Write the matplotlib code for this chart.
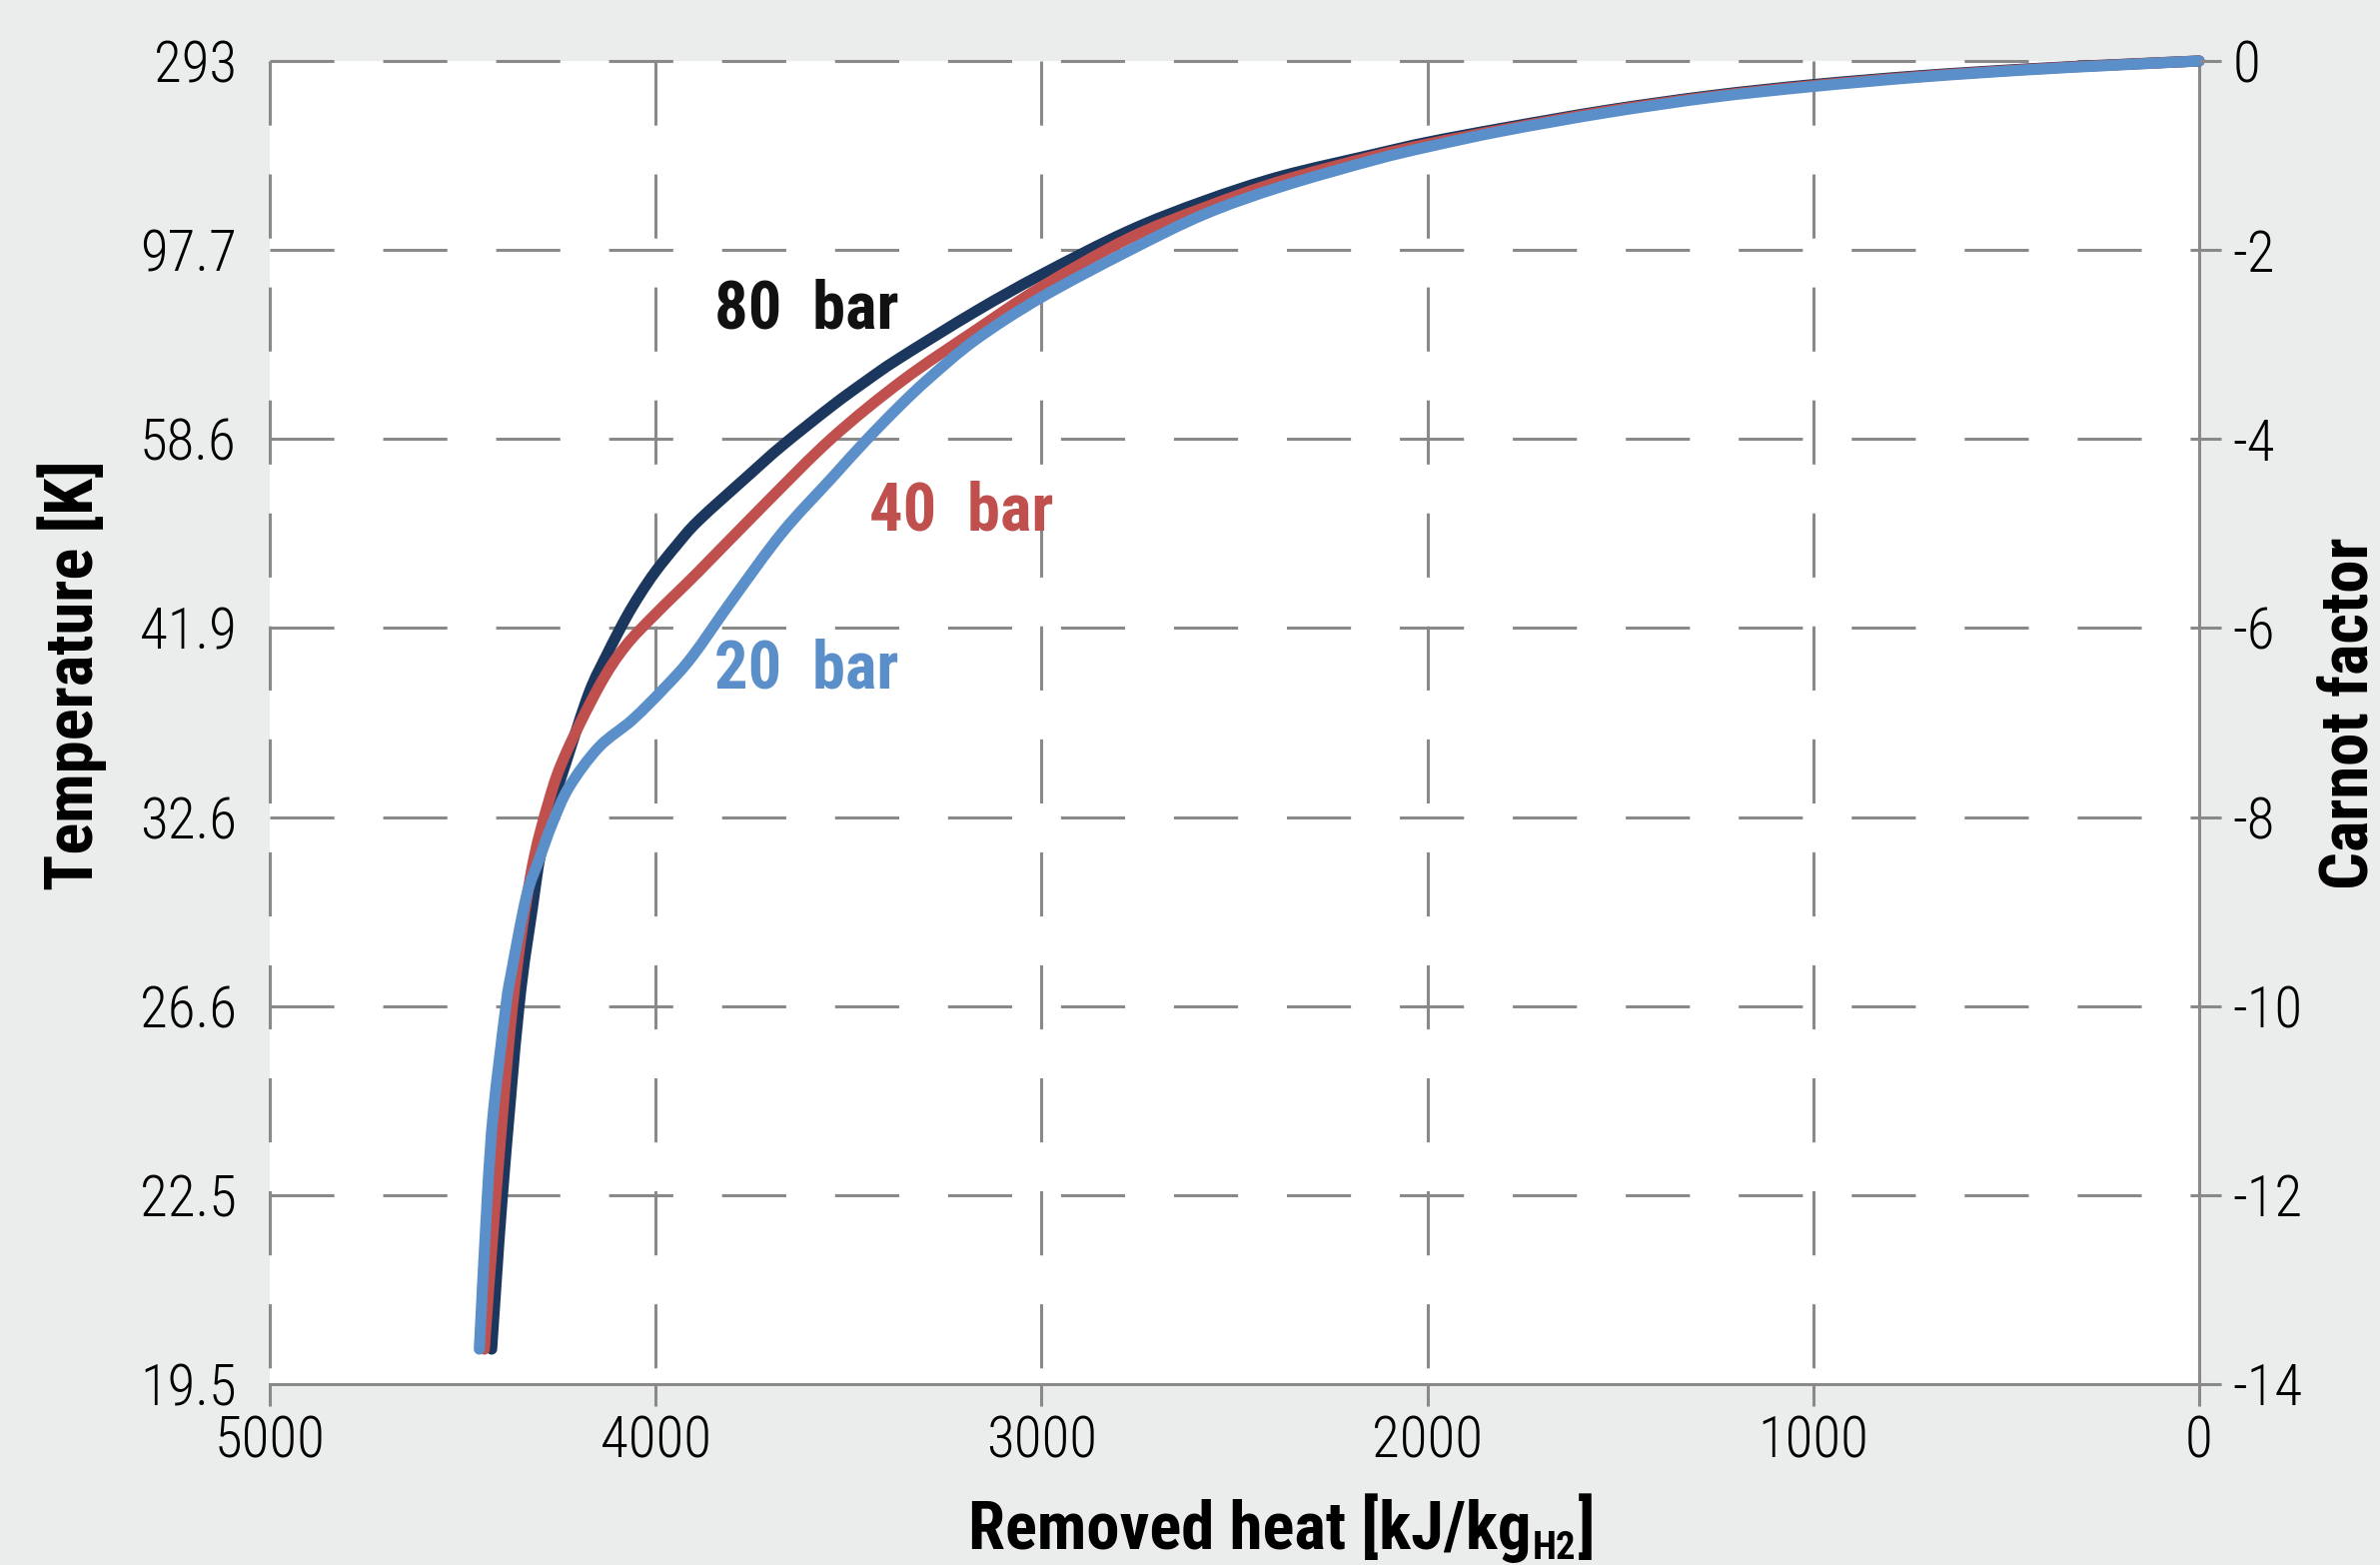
import matplotlib.pyplot as plt
from matplotlib import font_manager as fm
from matplotlib.patches import PathPatch
from matplotlib.path import Path

# removed heat [kJ/kg] and Carnot factor for each pressure
heat_80 = [4425, 4397, 4354, 4319, 4298, 4263, 4233, 4173, 4125, 4078, 4040,
           4000, 3945, 3888, 3758, 3672, 3543, 3456, 3370, 3171, 3000, 2775,
           2577, 2379, 2141, 2000, 1804, 1533, 1262, 1000, 720, 449, 225, 0]
carnot_80 = [-13.63, -12.0, -10.0, -8.95, -8.39, -7.82, -7.43, -6.69, -6.27,
             -5.90, -5.64, -5.40, -5.12, -4.86, -4.38, -4.07, -3.65, -3.39,
             -3.15, -2.65, -2.26, -1.80, -1.48, -1.22, -0.99, -0.86, -0.71,
             -0.52, -0.365, -0.25, -0.155, -0.085, -0.04, 0.0]

heat_40 = [4444, 4414, 4371, 4324, 4276, 4233, 4147, 4080, 4000, 3888, 3715,
           3543, 3360, 3171, 3000, 2775, 2577, 2379, 2141, 2000, 1804, 1533,
           1262, 1000, 720, 449, 225, 0]
carnot_40 = [-13.63, -12.0, -10.0, -8.62, -7.82, -7.33, -6.62, -6.20, -5.85,
             -5.40, -4.68, -3.99, -3.38, -2.85, -2.39, -1.88, -1.55, -1.27,
             -1.01, -0.88, -0.725, -0.53, -0.375, -0.26, -0.163, -0.09,
             -0.043, 0.0]

heat_20 = [4457, 4436, 4420, 4388, 4375, 4335, 4302, 4268, 4224, 4147, 4060,
           3974, 3905, 3801, 3672, 3543, 3456, 3370, 3292, 3171, 3000, 2775,
           2577, 2379, 2141, 2000, 1804, 1533, 1262, 1000, 720, 449, 225, 0]
carnot_20 = [-13.63, -12.0, -11.1, -10.0, -9.67, -8.84, -8.45, -8.07, -7.68,
             -7.26, -6.97, -6.62, -6.30, -5.70, -4.99, -4.41, -4.02, -3.66,
             -3.36, -2.95, -2.50, -2.01, -1.62, -1.33, -1.05, -0.91, -0.74,
             -0.545, -0.385, -0.27, -0.17, -0.095, -0.046, 0.0]

series = [
    ("80  bar", heat_80, carnot_80, "#1b375e", "#111111", 3610, -2.64),
    ("40  bar", heat_40, carnot_40, "#c0504d", "#c0504d", 3208, -4.77),
    ("20  bar", heat_20, carnot_20, "#5b8fc9", "#5b8fc9", 3610, -6.44),
]

x_ticks = [5000, 4000, 3000, 2000, 1000, 0]
carnot_ticks = [0, -2, -4, -6, -8, -10, -12, -14]
temp_labels = ["293", "97.7", "58.6", "41.9", "32.6", "26.6", "22.5", "19.5"]

FAMILIES = ["Roboto Condensed", "Liberation Sans Narrow", "Open Sans Condensed",
            "Roboto", "Noto Sans", "Lato", "Liberation Sans", "DejaVu Sans"]


def _num(v, table, default):
    return v if isinstance(v, (int, float)) else table.get(v, default)


def pick_font(weight):
    """Narrow font file close to the wanted weight, from the families above."""
    for fam in FAMILIES:
        cands = [f for f in fm.fontManager.ttflist
                 if f.name == fam and f.style == "normal"
                 and abs(_num(f.weight, fm.weight_dict, 400) - weight) <= 100]
        if cands:
            best = min(cands, key=lambda f: (
                _num(f.stretch, fm.stretch_dict, 500),
                abs(_num(f.weight, fm.weight_dict, 400) - weight)))
            return fm.FontProperties(fname=best.fname)
    return fm.FontProperties(family="DejaVu Sans",
                             weight="bold" if weight > 500 else "normal")


def smooth_path(xs, ys):
    """Smoothed line through the points (like a spreadsheet 'smoothed line')."""
    pts = list(zip(xs, ys))
    verts = [pts[0]]
    codes = [Path.MOVETO]
    n = len(pts)
    for i in range(n - 1):
        p0 = pts[max(i - 1, 0)]
        p1 = pts[i]
        p2 = pts[i + 1]
        p3 = pts[min(i + 2, n - 1)]
        c1 = (p1[0] + (p2[0] - p0[0]) / 6, p1[1] + (p2[1] - p0[1]) / 6)
        c2 = (p2[0] - (p3[0] - p1[0]) / 6, p2[1] - (p3[1] - p1[1]) / 6)
        verts += [c1, c2, p2]
        codes += [Path.CURVE4] * 3
    return Path(verts, codes)


bold_fp = pick_font(700)
light_fp = pick_font(300)

bg = "#ebedec"
grid_col = "#898989"
W, H = 2382, 1566

fig = plt.figure(figsize=(W / 100, H / 100), dpi=100, facecolor=bg)
ax = fig.add_axes([270 / W, 1 - 1385 / H, (2201 - 270) / W, (1385 - 61) / H])
ax.set_facecolor("white")
ax.set_xlim(5000, 0)
ax.set_ylim(-14, 0)

# dashed grid, drawn from the top / from the left like the original
dash = (0, (21, 16))
for xv in x_ticks[:-1]:
    ax.plot([xv, xv], [0, -14], color=grid_col, lw=2.2, ls=dash, zorder=1,
            clip_on=False)
for cv in carnot_ticks[:-1]:
    ax.plot([5000, 0], [cv, cv], color=grid_col, lw=2.2, ls=dash, zorder=1,
            clip_on=False)

for label, hx, cy, col, tcol, tx, ty in series:
    ax.add_patch(PathPatch(smooth_path(hx, cy), facecolor="none",
                           edgecolor=col, lw=8, capstyle="round",
                           joinstyle="round", zorder=3, clip_on=False))
    ax.text(tx, ty, label, color=tcol, fontproperties=bold_fp, fontsize=48,
            ha="center", va="center", zorder=4)

for side in ["left", "top"]:
    ax.spines[side].set_visible(False)
for side in ["bottom", "right"]:
    ax.spines[side].set_color(grid_col)
    ax.spines[side].set_linewidth(2.2)
    ax.spines[side].set_zorder(2)

ax.set_xticks(x_ticks)
ax.set_xticklabels([str(v) for v in x_ticks])
ax.set_yticks(carnot_ticks)
ax.set_yticklabels(temp_labels)
ax.tick_params(axis="x", direction="out", length=16, width=2.2,
               color=grid_col, pad=6)
ax.tick_params(axis="y", length=0, pad=24)

ax2 = ax.twinx()
ax2.set_ylim(-14, 0)
ax2.set_yticks(carnot_ticks)
ax2.set_yticklabels([str(v) for v in carnot_ticks])
for side in ["left", "top", "bottom", "right"]:
    ax2.spines[side].set_visible(False)
ax2.tick_params(axis="y", direction="out", length=16, width=2.2,
                color=grid_col, pad=8)

for t in ax.get_xticklabels() + ax.get_yticklabels() + ax2.get_yticklabels():
    t.set_fontproperties(light_fp)
    t.set_fontsize(41)

# x label with a subscript, built from three pieces
t1 = fig.text(969 / W, 1 - 1550 / H, "Removed heat [kJ/kg",
              fontproperties=bold_fp, fontsize=48, ha="left", va="baseline")
t2 = ax.annotate("H2", xy=(1, 0), xycoords=t1, xytext=(1, -3),
                 textcoords="offset points", fontproperties=bold_fp,
                 fontsize=28, ha="left", va="bottom", annotation_clip=False)
ax.annotate("]", xy=(1, 0), xycoords=(t2, t1), xytext=(1, 0),
            textcoords="offset points", fontproperties=bold_fp, fontsize=48,
            ha="left", va="bottom", annotation_clip=False)

fig.text(72 / W, 1 - 676 / H, "Temperature [K]", fontproperties=bold_fp,
         fontsize=48, rotation=90, ha="center", va="center")
fig.text(2352 / W, 1 - 714 / H, "Carnot factor", fontproperties=bold_fp,
         fontsize=48, rotation=90, ha="center", va="center")

fig.savefig("out.png", dpi=100, facecolor=bg)
